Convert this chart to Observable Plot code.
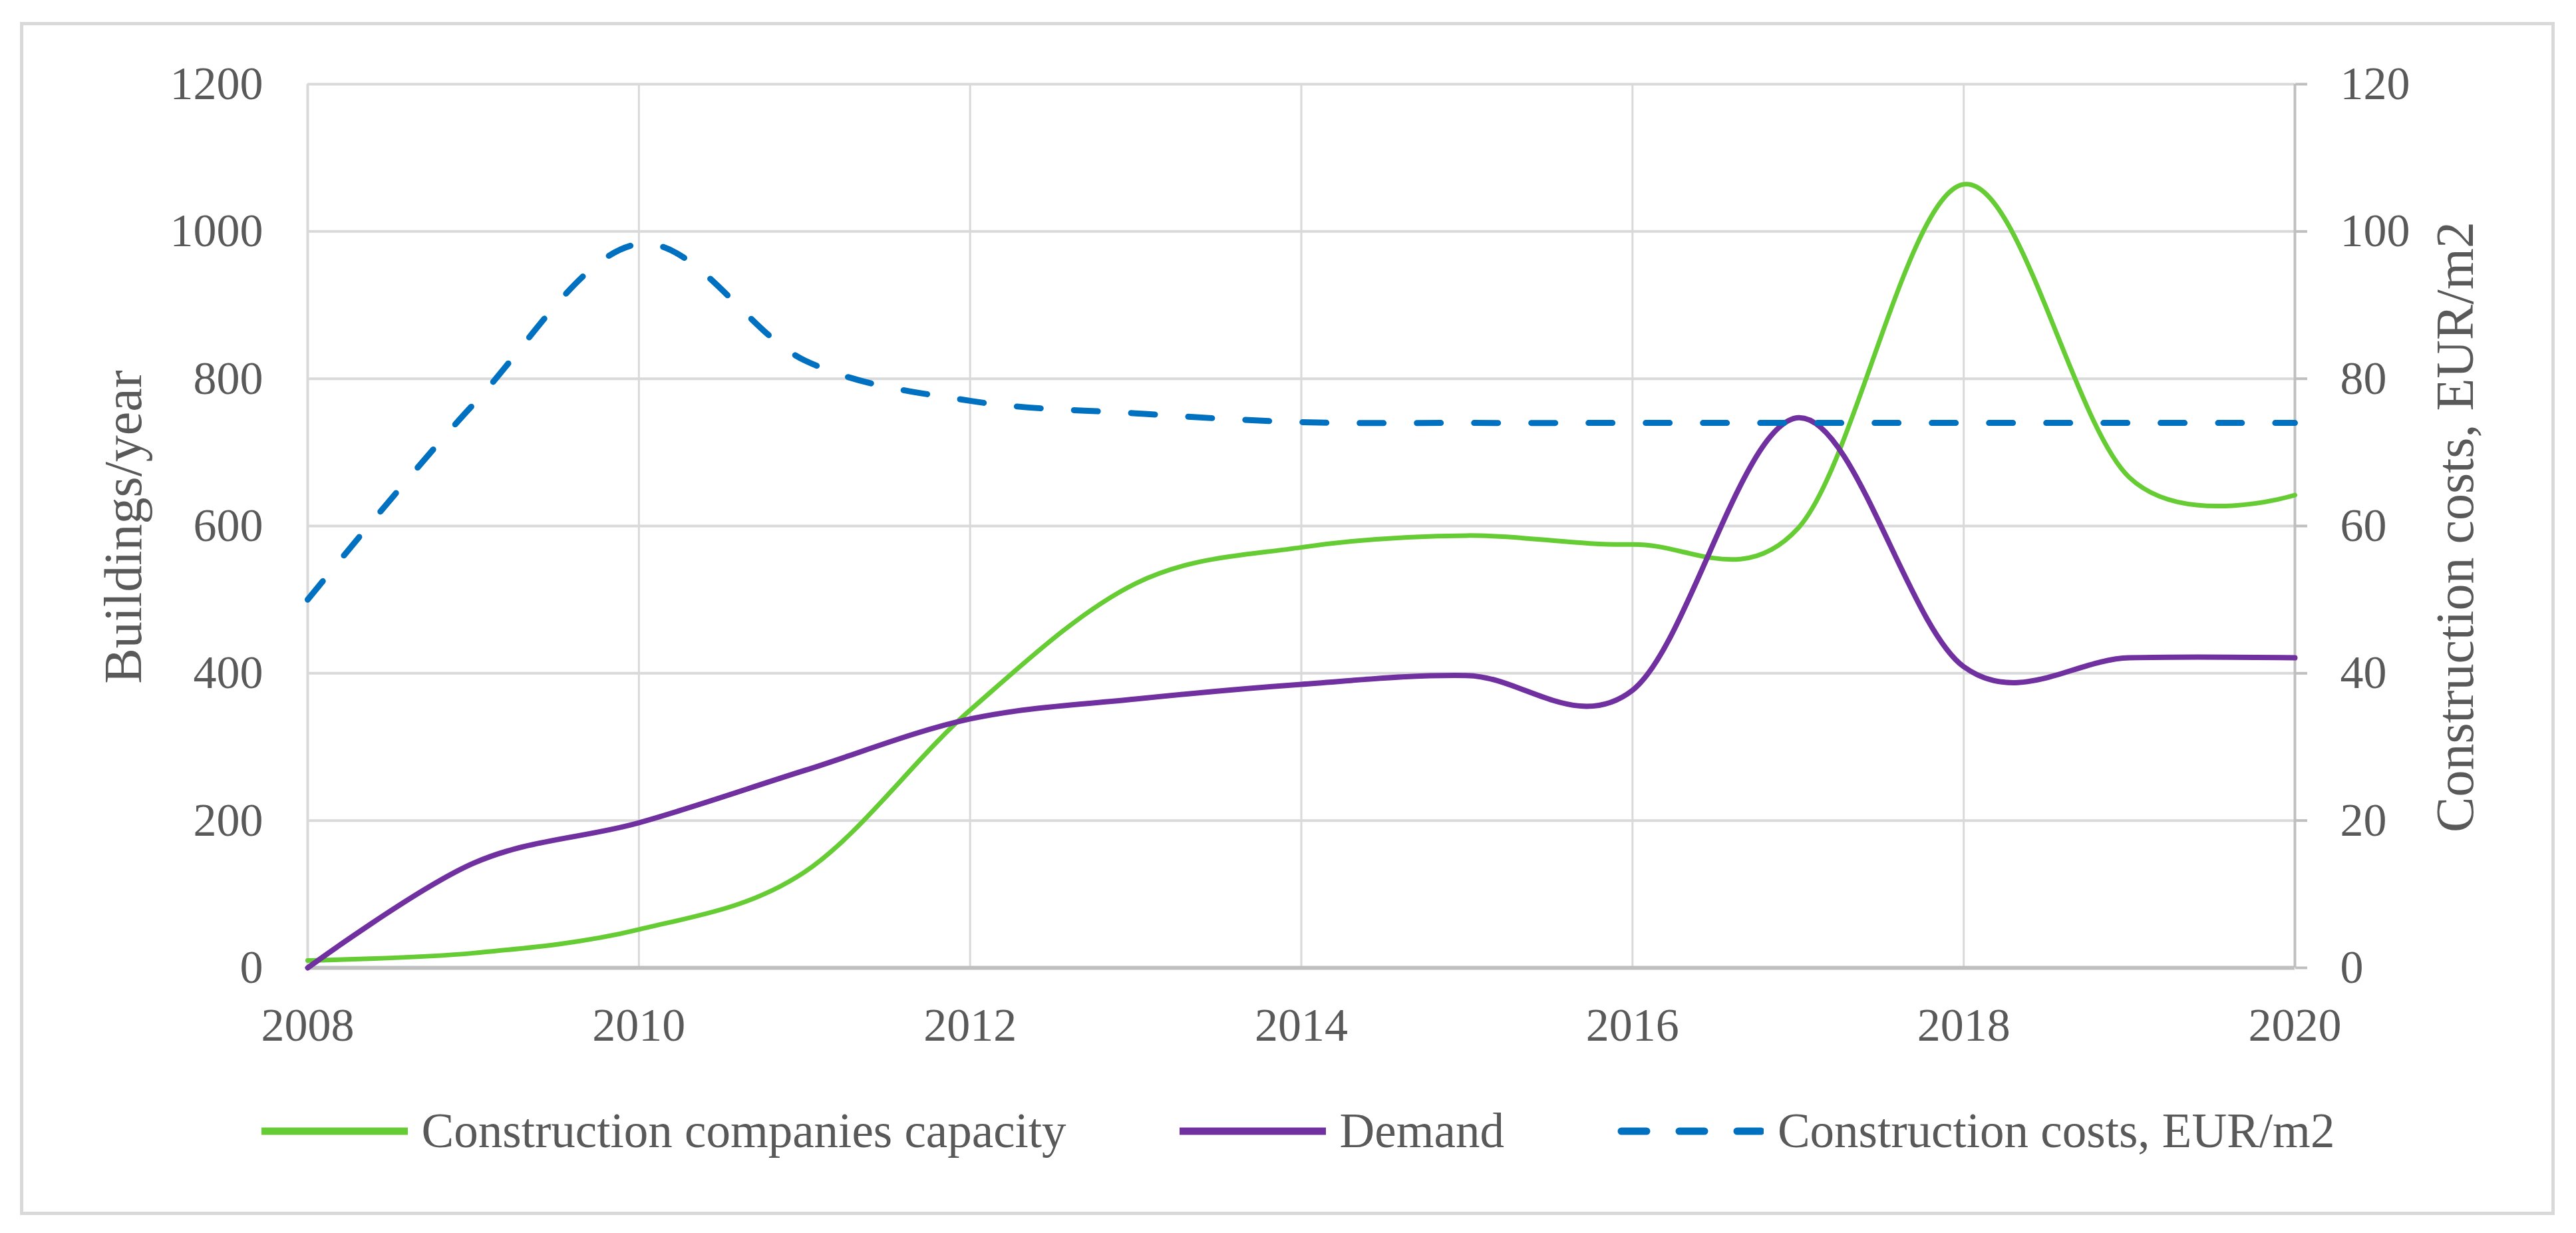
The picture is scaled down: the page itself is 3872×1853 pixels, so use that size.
<!DOCTYPE html>
<html>
<head>
<meta charset="utf-8">
<script src="https://cdn.jsdelivr.net/npm/d3@7"></script>
<script src="https://cdn.jsdelivr.net/npm/@observablehq/plot@0.6"></script>
<style>
  html, body { margin: 0; padding: 0; background: #fff; }
  #wrap { position: relative; width: 3872px; height: 1853px; overflow: hidden; font-family: "Liberation Serif", serif; color: #595959; }
  #frame { position: absolute; left: 30px; top: 33px; width: 3810px; height: 1793px; border: 5px solid #d9d9d9; box-sizing: border-box; }
  #chart { position: absolute; left: 0; top: 0; }
  .ytitle { position: absolute; font-size: 80px; line-height: 1; white-space: nowrap; transform: translate(-50%, -50%) rotate(-90deg); }
  #legend { position: absolute; left: 30px; width: 3842px; top: 1660px; height: 80px; display: flex; align-items: center; justify-content: center; font-size: 73px; }
  .item { display: flex; align-items: center; margin: 0 85px; }
  .item svg { margin-right: 21px; }
</style>
</head>
<body>
<div id="wrap">
  <div id="frame"></div>
  <div id="chart"></div>
  <div class="ytitle" style="left:185px; top:792px;">Buildings/year</div>
  <div class="ytitle" style="left:3690px; top:792px;">Construction costs, EUR/m2</div>
  <div id="legend"></div>
</div>
<script>
// ---- data ----
const years = [2008, 2009, 2010, 2011, 2012, 2013, 2014, 2015, 2016, 2017, 2018, 2019, 2020];
const capacity = [10, 20, 52, 130, 350, 522, 571, 587, 575, 597, 1064, 666, 642];
const demand = [0, 142, 197, 268, 338, 365, 385, 397, 377, 747, 409, 421, 421];
const costs = [50, 76.5, 98.3, 82.5, 77, 75.3, 74.1, 74, 74, 74, 74, 74, 74];
const leftTicks = [0, 200, 400, 600, 800, 1000, 1200];
const rightTicks = [0, 20, 40, 60, 80, 100, 120];
const xTicks = [2008, 2010, 2012, 2014, 2016, 2018, 2020];
const seriesNames = ["Construction companies capacity", "Demand", "Construction costs, EUR/m2"];
const seriesColors = ["#66cc33", "#7030a0", "#0070c0"];

const rows = years.map((y, i) => ({year: y, capacity: capacity[i], demand: demand[i], cost: costs[i]}));
const ratio = 1200 / 120; // right axis -> left axis

const innerGrid = xTicks.slice(1, -1);

const chart = Plot.plot({
  width: 3872,
  height: 1600,
  marginLeft: 462,
  marginRight: 423,
  marginTop: 126,
  marginBottom: 146,
  style: {fontFamily: "Liberation Serif, serif", fontSize: "70px", color: "#595959", background: "transparent"},
  x: {domain: [2008, 2020]},
  y: {domain: [0, 1200]},
  marks: [
    Plot.ruleY(leftTicks.slice(1), {stroke: "#d9d9d9", strokeWidth: 4}),
    Plot.ruleX(innerGrid, {stroke: "#d9d9d9", strokeWidth: 3}),
    Plot.ruleX([2008], {stroke: "#d9d9d9", strokeWidth: 4}),
    Plot.ruleX([2020], {stroke: "#bfbfbf", strokeWidth: 4}),
    Plot.axisY({anchor: "right", ticks: leftTicks, tickSize: 18, stroke: "#bfbfbf", strokeWidth: 4, fill: "none", label: null}),
    Plot.ruleY([0], {stroke: "#bfbfbf", strokeWidth: 6}),
    Plot.axisY({anchor: "left", ticks: leftTicks, tickSize: 0, tickPadding: 67, tickFormat: d => String(d), label: null}),
    Plot.axisY({anchor: "right", ticks: rightTicks.map(t => t * ratio), tickSize: 0, tickPadding: 68, tickFormat: d => String(d / ratio), label: null}),
    Plot.axisX({ticks: xTicks, tickSize: 0, tickPadding: 60, tickFormat: d => String(d), label: null}),
    Plot.line(rows, {x: "year", y: "capacity", stroke: seriesColors[0], strokeWidth: 7, curve: "cardinal"}),
    Plot.line(rows, {x: "year", y: "demand", stroke: seriesColors[1], strokeWidth: 8, curve: "cardinal"}),
    Plot.line(rows, {x: "year", y: d => d.cost * ratio, stroke: seriesColors[2], strokeWidth: 9, strokeDasharray: "36,50", strokeLinecap: "round", curve: "cardinal"})
  ]
});
document.getElementById("chart").appendChild(chart);

// ---- legend ----
const legend = document.getElementById("legend");
seriesNames.forEach((name, i) => {
  const item = document.createElement("div");
  item.className = "item";
  const line = i === 2
    ? `<line x1="6" y1="10" x2="216" y2="10" stroke="${seriesColors[i]}" stroke-width="11" stroke-linecap="round" stroke-dasharray="38,49"/>`
    : `<line x1="0" y1="10" x2="220" y2="10" stroke="${seriesColors[i]}" stroke-width="11" stroke-linecap="butt"/>`;
  item.innerHTML = `<svg width="220" height="20">${line}</svg><span>${name}</span>`;
  legend.appendChild(item);
});
</script>
</body>
</html>
